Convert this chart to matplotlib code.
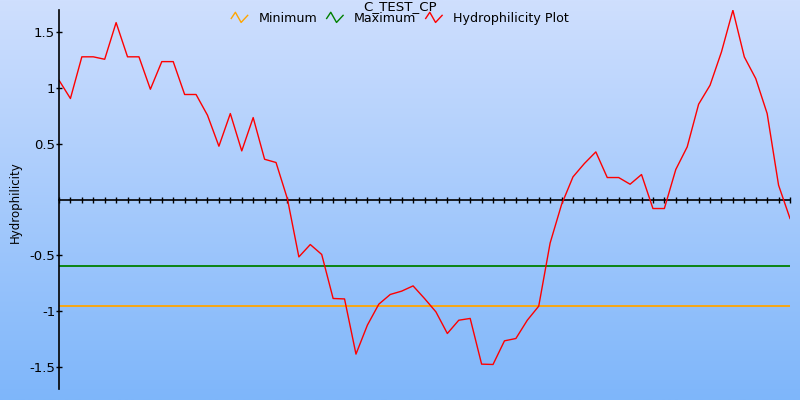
import numpy as np
import matplotlib
matplotlib.use("Agg")
import matplotlib.pyplot as plt
from matplotlib.lines import Line2D
from matplotlib.legend_handler import HandlerLine2D

title = "C_TEST_CP"
y_label = "Hydrophilicity"
series_names = ["Minimum", "Maximum", "Hydrophilicity Plot"]
series_colors = ["#ffa500", "#008000", "#ff0000"]

hydro = [1.07, 0.906, 1.28, 1.28, 1.258, 1.587, 1.28, 1.28, 0.989, 1.237,
         1.237, 0.942, 0.942, 0.756, 0.478, 0.771, 0.436, 0.735, 0.361, 0.332,
         0.005, -0.515, -0.404, -0.493, -0.888, -0.892, -1.387, -1.127, -0.939, -0.852,
         -0.822, -0.775, -0.888, -1.008, -1.202, -1.083, -1.067, -1.477, -1.48, -1.268,
         -1.247, -1.083, -0.957, -0.39, -0.045, 0.203, 0.323, 0.427, 0.197, 0.197,
         0.137, 0.224, -0.081, -0.081, 0.269, 0.472, 0.855, 1.025, 1.324, 1.698,
         1.279, 1.085, 0.771, 0.128, -0.17]
minimum_value = -0.957
maximum_value = -0.601
y_ticks = [-1.5, -1, -0.5, 0.5, 1, 1.5]
y_tick_labels = ["-1.5", "-1", "-0.5", "0.5", "1", "1.5"]

positions = np.arange(len(hydro))

fig = plt.figure(figsize=(8, 4), dpi=100)

# background gradient
bg = fig.add_axes([0, 0, 1, 1], zorder=-10)
top = np.array([0xcf, 0xdf, 0xfe]) / 255
bot = np.array([0x7e, 0xb6, 0xfa]) / 255
t = np.linspace(0, 1, 256)[:, None]
grad = top[None, :] * (1 - t) + bot[None, :] * t
bg.imshow(grad[:, None, :], aspect="auto", extent=[0, 1, 0, 1], origin="upper")
bg.set_axis_off()

ax = fig.add_axes([59 / 800, 11 / 400, 731 / 800, 379 / 400])
ax.patch.set_alpha(0)
ax.set_xlim(positions[0], positions[-1])
ax.set_ylim(-1.7, 1.7)

ax.axhline(minimum_value, color=series_colors[0], lw=1.3)
ax.axhline(maximum_value, color=series_colors[1], lw=1.3)
ax.plot(positions, np.zeros(len(positions)), color="black", lw=1.2,
        marker="|", markersize=5, mew=1.0, clip_on=False)
ax.plot(positions, hydro, color=series_colors[2], lw=1.0)

for s in ["top", "right", "bottom"]:
    ax.spines[s].set_visible(False)
ax.spines["left"].set_linewidth(1.2)
ax.set_xticks([])
ax.set_yticks(y_ticks)
ax.set_yticklabels(y_tick_labels, fontsize=9.5)
ax.tick_params(axis="y", direction="inout", length=4.5, width=1.0, pad=0.5, colors="black")

fig.text(15 / 800, 1 - 202 / 400, y_label, rotation=90, ha="center", va="center", fontsize=8.5)
fig.text(0.5, 1 - 6.5 / 400, title, ha="center", va="center", fontsize=9.6)


class ZigZag(HandlerLine2D):
    def create_artists(self, legend, orig_handle, xdescent, ydescent,
                       width, height, fontsize, trans):
        xs = np.array([0.0, 0.25, 0.6, 1.0]) * width - xdescent
        ys = np.array([0.4, 1.1, -0.05, 0.75]) * height - ydescent
        ln = Line2D(xs, ys, color=orig_handle.get_color(), lw=1.0, transform=trans)
        return [ln]


handles = [Line2D([], [], color=c) for c in series_colors]
leg = fig.legend(handles, series_names, loc="center", bbox_to_anchor=(0.5, 1 - 18.5 / 400),
                 ncol=3, frameon=False, fontsize=9.1, handlelength=1.3, handletextpad=0.85,
                 columnspacing=0.75, borderpad=0, handler_map={Line2D: ZigZag()})

fig.savefig("out.png", dpi=100)
